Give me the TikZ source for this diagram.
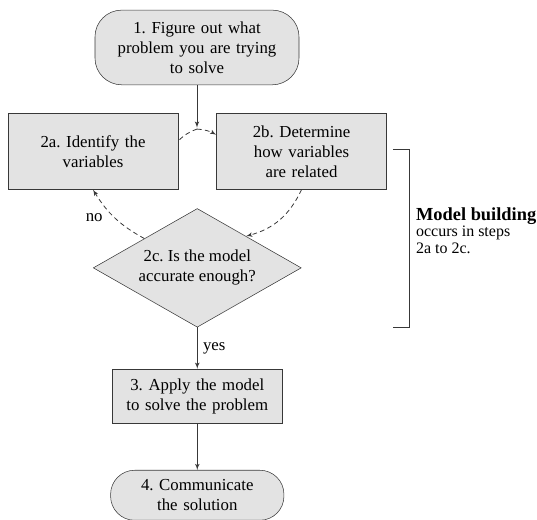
\documentclass[tikz,border=0pt]{standalone}
\usepackage{fontspec}
\setmainfont{Liberation Serif}
\usepackage{tikz}
\usetikzlibrary{shapes.geometric, arrows, positioning, calc}
\frenchspacing

\definecolor{boxgray}{gray}{0.89}
\definecolor{linegray}{gray}{0.22}

\begin{document}
\begin{tikzpicture}[
    block/.style={rectangle, draw=linegray, fill=boxgray, text width=115pt, align=center, minimum width=127.5pt, minimum height=57pt, inner sep=2pt, font=\fontsize{12.6}{15}\selectfont},
    terminal/.style={rectangle, draw=linegray, fill=boxgray, rounded corners=20pt, text width=132pt, align=center, minimum width=153pt, minimum height=56pt, inner sep=2pt, font=\fontsize{12.6}{15}\selectfont},
    decision/.style={diamond, draw=linegray, fill=boxgray, aspect=1.73, minimum width=156pt, minimum height=89pt, inner sep=0pt, align=center, font=\fontsize{12.6}{15}\selectfont},
    line/.style={draw=linegray, -latex', semithick},
    dashline/.style={draw=linegray, dash pattern=on 3.5pt off 2.5pt, semithick},
    lbl/.style={font=\fontsize{12.6}{15}\selectfont, inner sep=1pt}
]
    \useasboundingbox (0,0) rectangle (402.75pt,-390pt);

    % Step 1
    \node (define) [terminal] at (147.75pt,-35.6pt) {1. Figure out what\\problem you are trying\\to solve};

    % Steps 2a and 2b
    \node (ident) [block, below=21pt of define, xshift=-78pt] {2a. Identify the\\variables};
    \node (relate) [block, right=28.5pt of ident] {2b. Determine\\how variables\\are related};

    % Step 2c
    \coordinate (mid) at ($(ident.south)!0.5!(relate.south)$);
    \node (check) [decision, below=14pt of mid] {2c. Is the model\\accurate enough?};

    % Steps 3 and 4
    \node (apply) [block, minimum height=40.5pt, below=31pt of check] {3. Apply the model\\to solve the problem};
    \node (share) [terminal, rounded corners=18pt, text width=120pt, minimum width=130pt, minimum height=37.5pt, below=35pt of apply] {4. Communicate\\the solution};

    % Arrows
    \coordinate (split) at ([yshift=-11pt]ident.north -| define.south);
    \path [line] (define) -- (split);
    \path [dashline] ([yshift=-1pt]split) to[bend right=12] (ident.7);
    \path [dashline, -latex'] ([yshift=-1pt]split) to[bend left=12] (relate.169);
    \path [dashline, -latex'] (relate.south) to[bend left=25] (check.33);
    \path [dashline, -latex'] (check.151) to[bend left=15] node[lbl, left=8pt] {no} (ident.south);
    \path [line] (check) -- node[lbl, right=3pt] {yes} (apply);
    \path [line] (apply) -- (share);

    % Bracket and note
    \coordinate (btop) at ([xshift=4.5pt, yshift=1.5pt]relate.east);
    \coordinate (bbot) at (btop |- check.south);
    \draw [draw=linegray, semithick] (btop) -- ++(12.75pt,0) coordinate (bcorner) |- (bbot);
    \coordinate (bmid) at ($(bcorner)!0.5!(bcorner |- bbot)$);
    \node (note) [right=4.5pt of bmid, yshift=6pt, align=left, inner sep=0pt, font=\fontsize{12}{12.4}\selectfont] {{\fontsize{13.8}{12.4}\selectfont\bfseries Model building}\\occurs in steps\\2a to 2c.};

\end{tikzpicture}
\end{document}
